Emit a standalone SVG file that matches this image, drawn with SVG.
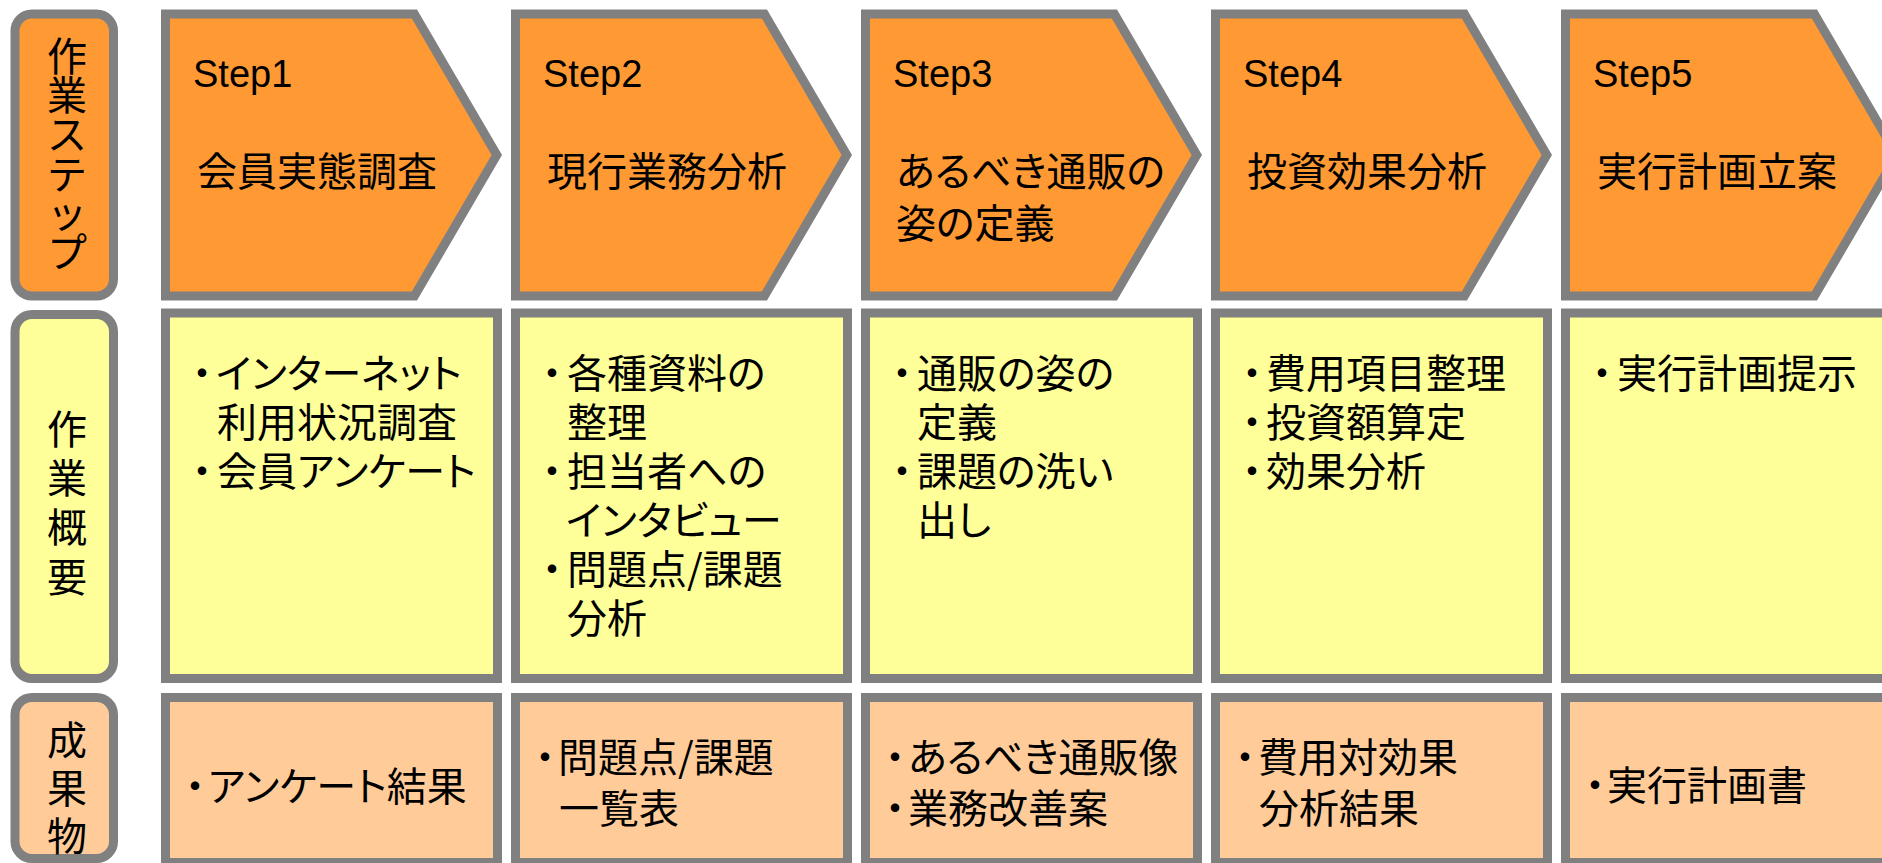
<svg xmlns="http://www.w3.org/2000/svg" width="1882" height="863" viewBox="0 0 1882 863">
<style>
.lbl{stroke:#808080;stroke-width:9}
.box{stroke:#808080;stroke-width:9;stroke-linejoin:miter}
.o{fill:#FF9933}
.y{fill:#FFFF99}
.p{fill:#FFCC99}
.st{font-family:"Liberation Sans",Arial,sans-serif;font-size:38px;fill:#000}
.jp{font-family:"Noto Sans CJK JP","Noto Sans CJK SC",sans-serif;font-size:40px;fill:#000;font-feature-settings:"palt" 1}
.v{font-family:"Noto Sans CJK JP","Noto Sans CJK SC",sans-serif;font-size:40px;fill:#000;writing-mode:vertical-rl;text-orientation:upright;font-feature-settings:"vert" 0,"vrt2" 0}
.b{font-feature-settings:normal;letter-spacing:-22px}
</style>
<rect x="0" y="0" width="1882" height="863" fill="#FFFFFF"/>

<g id="label-steps">
<rect class="lbl o" x="15" y="14" width="98.5" height="282" rx="17"/>
<text class="v" x="67" y="35.5" style="letter-spacing:-0.7px">作業ステップ</text>
</g>
<g id="label-summary">
<rect class="lbl y" x="15" y="314.5" width="98.5" height="364" rx="17"/>
<text class="v" x="67" y="408.5" style="letter-spacing:9.3px">作業概要</text>
</g>
<g id="label-deliverables">
<rect class="lbl p" x="15" y="697.5" width="98.5" height="161" rx="17"/>
<text class="v" x="67" y="719.5" style="letter-spacing:8px">成果物</text>
</g>

<g id="step1">
<path class="box o" d="M165.5,14 H414.4 L496.8,155 L414.4,296 H165.5 Z"/>
<text class="st" x="193" y="87">Step1</text>
<text class="jp" x="197" y="186">会員実態調査</text>
</g>
<g id="step2">
<path class="box o" d="M515.5,14 H764.4 L846.8,155 L764.4,296 H515.5 Z"/>
<text class="st" x="543" y="87">Step2</text>
<text class="jp" x="547" y="186">現行業務分析</text>
</g>
<g id="step3">
<path class="box o" d="M865.5,14 H1114.4 L1196.8,155 L1114.4,296 H865.5 Z"/>
<text class="st" x="893" y="87">Step3</text>
<text class="jp" x="896" y="186">あるべき通販の</text>
<text class="jp" x="896" y="238">姿の定義</text>
</g>
<g id="step4">
<path class="box o" d="M1215.5,14 H1464.4 L1546.8,155 L1464.4,296 H1215.5 Z"/>
<text class="st" x="1243" y="87">Step4</text>
<text class="jp" x="1247" y="186">投資効果分析</text>
</g>
<g id="step5">
<path class="box o" d="M1565.5,14 H1814.4 L1896.8,155 L1814.4,296 H1565.5 Z"/>
<text class="st" x="1593" y="87">Step5</text>
<text class="jp" x="1597" y="186">実行計画立案</text>
</g>

<g id="summary1">
<rect class="box y" x="165.5" y="313" width="332" height="365.5"/>
<text class="jp" y="388"><tspan class="b" x="182">・</tspan><tspan x="216">インターネット</tspan></text>
<text class="jp" x="217" y="437">利用状況調査</text>
<text class="jp" y="486"><tspan class="b" x="182">・</tspan><tspan x="217">会員アンケート</tspan></text>
</g>
<g id="summary2">
<rect class="box y" x="515.5" y="313" width="332" height="365.5"/>
<text class="jp" y="388"><tspan class="b" x="532">・</tspan><tspan x="567">各種資料の</tspan></text>
<text class="jp" x="567" y="437">整理</text>
<text class="jp" y="486"><tspan class="b" x="532">・</tspan><tspan x="567">担当者への</tspan></text>
<text class="jp" x="566" y="535">インタビュー</text>
<text class="jp" y="584"><tspan class="b" x="532">・</tspan><tspan x="567">問題点/課題</tspan></text>
<text class="jp" x="567" y="633">分析</text>
</g>
<g id="summary3">
<rect class="box y" x="865.5" y="313" width="332" height="365.5"/>
<text class="jp" y="388"><tspan class="b" x="882">・</tspan><tspan x="917">通販の姿の</tspan></text>
<text class="jp" x="917" y="437">定義</text>
<text class="jp" y="486"><tspan class="b" x="882">・</tspan><tspan x="917">課題の洗い</tspan></text>
<text class="jp" x="917" y="535">出し</text>
</g>
<g id="summary4">
<rect class="box y" x="1215.5" y="313" width="332" height="365.5"/>
<text class="jp" y="388"><tspan class="b" x="1232">・</tspan><tspan x="1266">費用項目整理</tspan></text>
<text class="jp" y="437"><tspan class="b" x="1232">・</tspan><tspan x="1266">投資額算定</tspan></text>
<text class="jp" y="486"><tspan class="b" x="1232">・</tspan><tspan x="1266">効果分析</tspan></text>
</g>
<g id="summary5">
<rect class="box y" x="1565.5" y="313" width="332" height="365.5"/>
<text class="jp" y="388"><tspan class="b" x="1582">・</tspan><tspan x="1617">実行計画提示</tspan></text>
</g>

<g id="deliverable1">
<rect class="box p" x="165.5" y="697.5" width="332" height="165"/>
<text class="jp" y="801"><tspan class="b" x="175">・</tspan><tspan x="208">アンケート結果</tspan></text>
</g>
<g id="deliverable2">
<rect class="box p" x="515.5" y="697.5" width="332" height="165"/>
<text class="jp" y="772"><tspan class="b" x="525">・</tspan><tspan x="558">問題点/課題</tspan></text>
<text class="jp" x="559" y="823">一覧表</text>
</g>
<g id="deliverable3">
<rect class="box p" x="865.5" y="697.5" width="332" height="165"/>
<text class="jp" y="772"><tspan class="b" x="875">・</tspan><tspan x="908">あるべき通販像</tspan></text>
<text class="jp" y="823"><tspan class="b" x="875">・</tspan><tspan x="908">業務改善案</tspan></text>
</g>
<g id="deliverable4">
<rect class="box p" x="1215.5" y="697.5" width="332" height="165"/>
<text class="jp" y="772"><tspan class="b" x="1225">・</tspan><tspan x="1258">費用対効果</tspan></text>
<text class="jp" x="1259" y="823">分析結果</text>
</g>
<g id="deliverable5">
<rect class="box p" x="1565.5" y="697.5" width="332" height="165"/>
<text class="jp" y="800"><tspan class="b" x="1575">・</tspan><tspan x="1607">実行計画書</tspan></text>
</g>
</svg>
